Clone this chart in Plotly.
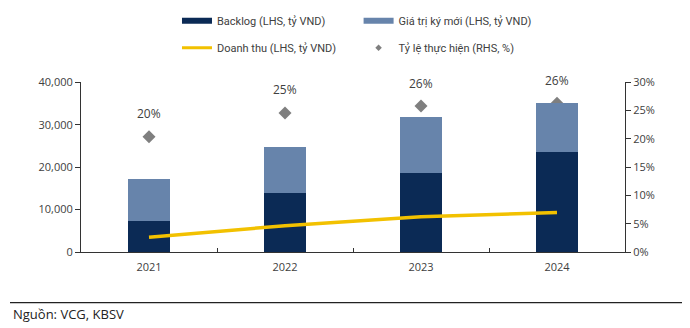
import plotly.graph_objects as go

years = ["2021", "2022", "2023", "2024"]
backlog = [7300, 13850, 18600, 23600]
new_contracts = [9900, 10900, 13300, 11600]
revenue = [3500, 6200, 8300, 9300]
ratio = [20.4, 24.6, 25.8, 26.3]
ratio_labels = ["20%", "25%", "26%", "26%"]

left_ticks = [0, 10000, 20000, 30000, 40000]
left_ticktext = ["0", "10,000", "20,000", "30,000", "40,000"]
right_ticks = [0, 5, 10, 15, 20, 25, 30]
right_ticktext = ["0%", "5%", "10%", "15%", "20%", "25%", "30%"]

FONT = "Open Sans"
LFONT = "Roboto"
GREY = "#404040"
NAVY = "#0B2A55"
STEEL = "#6784AB"
YELLOW = "#F2C100"
DGREY = "#7F7F7F"

fig = go.Figure()
# ratio on primary (right) axis so it is drawn beneath the bars
fig.add_trace(go.Scatter(x=years, y=ratio, name="Tỷ lệ thực hiện (RHS, %)",
                         mode="markers", yaxis="y", showlegend=False,
                         marker=dict(symbol="diamond", size=10, color=DGREY)))
fig.add_trace(go.Bar(x=years, y=backlog, name="Backlog (LHS, tỷ VND)", yaxis="y2",
                     marker=dict(color=NAVY, line=dict(width=0)), width=0.31,
                     showlegend=False))
fig.add_trace(go.Bar(x=years, y=new_contracts, name="Giá trị ký mới (LHS, tỷ VND)",
                     yaxis="y2", showlegend=False,
                     marker=dict(color=STEEL, line=dict(width=0)), width=0.31))
fig.add_trace(go.Scatter(x=years, y=revenue, name="Doanh thu (LHS, tỷ VND)",
                         mode="lines", yaxis="y2", line=dict(color=YELLOW, width=3.5),
                         showlegend=False))

# legend-only entries styled like the reference keys
fig.add_trace(go.Scatter(x=[None], y=[None], yaxis="y2", mode="lines",
                         name="Backlog (LHS, tỷ VND)",
                         line=dict(color=NAVY, width=6), legend="legend"))
fig.add_trace(go.Scatter(x=[None], y=[None], yaxis="y2", mode="lines",
                         name="Giá trị ký mới (LHS, tỷ VND)",
                         line=dict(color=STEEL, width=6), legend="legend2"))
fig.add_trace(go.Scatter(x=[None], y=[None], yaxis="y2", mode="lines",
                         name="Doanh thu (LHS, tỷ VND)",
                         line=dict(color=YELLOW, width=3), legend="legend3"))
fig.add_trace(go.Scatter(x=[None], y=[None], yaxis="y", mode="markers",
                         name="Tỷ lệ thực hiện (RHS, %)",
                         marker=dict(symbol="diamond", size=5, color=DGREY),
                         legend="legend4"))

for i, (r, lab) in enumerate(zip(ratio, ratio_labels)):
    fig.add_annotation(x=i, xref="x", y=r, yref="y", text=lab, showarrow=False,
                       yshift=23, font=dict(family=FONT, size=12, color=GREY))

def leg(x, y):
    return dict(orientation="h", xref="container", yref="container",
                x=x, xanchor="left", y=y, yanchor="middle",
                font=dict(family=LFONT, size=11, color=GREY),
                bgcolor="rgba(0,0,0,0)")

fig.update_layout(
    width=690, height=328,
    margin=dict(l=81, r=65, t=81, b=76),
    barmode="stack",
    plot_bgcolor="white", paper_bgcolor="white",
    font=dict(family=FONT, size=11, color=GREY),
    showlegend=True,
    legend=leg(0.2565, 1 - 20.7 / 328),
    legend2=leg(0.5197, 1 - 20.7 / 328),
    legend3=leg(0.2565, 1 - 47.7 / 328),
    legend4=leg(0.5197, 1 - 47.7 / 328),
    xaxis=dict(type="category", range=[-0.5, 3.5], showline=True,
               linecolor="#333333", linewidth=1,
               ticks="inside", tickson="boundaries", ticklen=4, tickcolor="#333333",
               showgrid=False, tickangle=0, ticklabelstandoff=5,
               tickfont=dict(family=FONT, size=11, color=GREY)),
    yaxis=dict(range=[0, 30], tickvals=right_ticks, ticktext=right_ticktext,
               side="right",
               showline=True, linecolor="#333333", linewidth=1,
               ticks="outside", ticklen=5, tickcolor="#333333", showgrid=False,
               zeroline=False, tickfont=dict(family=FONT, size=11, color=GREY)),
    yaxis2=dict(range=[0, 40000], tickvals=left_ticks, ticktext=left_ticktext,
                overlaying="y", side="left",
                showline=True, linecolor="#333333", linewidth=1,
                ticks="outside", ticklen=5, tickcolor="#333333", showgrid=False,
                zeroline=False, tickfont=dict(family=FONT, size=11, color=GREY)),
)

fig.add_shape(type="line", xref="paper", yref="paper",
              x0=(10 - 81) / 544, x1=(682 - 81) / 544,
              y0=(252 - 303) / 171, y1=(252 - 303) / 171,
              line=dict(color="#222222", width=1.2))
fig.add_annotation(xref="paper", yref="paper", x=(11 - 81) / 544,
                   y=(252 - 314) / 171, xanchor="left", yanchor="middle",
                   text="Nguồn: VCG, KBSV", showarrow=False,
                   font=dict(family=FONT, size=13, color="#222222"))

fig.write_html("out.html")
